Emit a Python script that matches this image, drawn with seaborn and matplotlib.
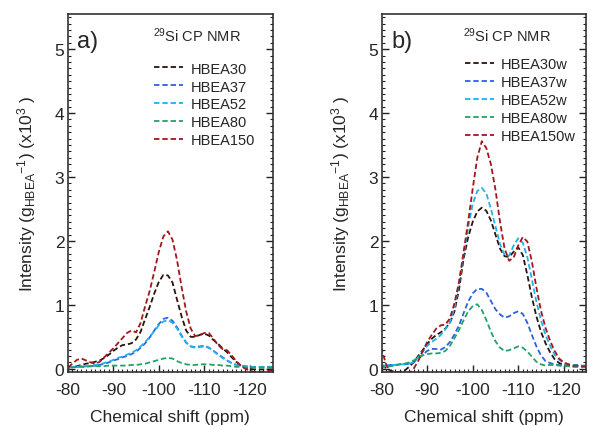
import numpy as np
import pandas as pd
import matplotlib
matplotlib.use('Agg')
import matplotlib.pyplot as plt
import seaborn as sns
from matplotlib.ticker import MultipleLocator

sns.set_style('ticks')
plt.rcParams['font.family'] = ['Liberation Sans', 'DejaVu Sans']
plt.rcParams['mathtext.fontset'] = 'custom'
plt.rcParams['mathtext.rm'] = 'Liberation Sans'
plt.rcParams['mathtext.it'] = 'Liberation Sans'
plt.rcParams['mathtext.default'] = 'regular'
plt.rcParams['axes.unicode_minus'] = False

# Chemical shift grid (ppm), 1 ppm steps
shift = list(range(-80, -126, -1))

# panel a) parent zeolites
hbea30 = [0.02, 0.03, 0.04, 0.06, 0.08, 0.09, 0.11, 0.13, 0.17, 0.22,
          0.28, 0.33, 0.37, 0.38, 0.40, 0.46, 0.58, 0.78, 0.97, 1.18,
          1.36, 1.47, 1.46, 1.35, 1.08, 0.82, 0.60, 0.50, 0.50, 0.53,
          0.55, 0.52, 0.45, 0.39, 0.32, 0.26, 0.18, 0.11, 0.05, 0.02,
          0.00, -0.01, -0.01, -0.01, -0.01, -0.01]
hbea37 = [0.03, 0.03, 0.03, 0.03, 0.04, 0.04, 0.05, 0.06, 0.08, 0.10,
          0.13, 0.15, 0.18, 0.20, 0.23, 0.27, 0.33, 0.40, 0.49, 0.60,
          0.70, 0.78, 0.80, 0.75, 0.65, 0.52, 0.41, 0.35, 0.34, 0.35,
          0.36, 0.33, 0.28, 0.23, 0.18, 0.13, 0.09, 0.06, 0.05, 0.04,
          0.03, 0.03, 0.03, 0.03, 0.03, 0.03]
hbea52 = [0.03, 0.03, 0.03, 0.04, 0.04, 0.05, 0.06, 0.07, 0.09, 0.11,
          0.14, 0.17, 0.19, 0.22, 0.25, 0.29, 0.35, 0.42, 0.50, 0.59,
          0.68, 0.74, 0.76, 0.72, 0.63, 0.51, 0.41, 0.35, 0.33, 0.34,
          0.35, 0.33, 0.28, 0.22, 0.17, 0.13, 0.09, 0.06, 0.04, 0.04,
          0.03, 0.03, 0.03, 0.03, 0.03, 0.03]
hbea80 = [0.02, 0.02, 0.03, 0.03, 0.03, 0.04, 0.04, 0.04, 0.04, 0.05,
          0.05, 0.05, 0.05, 0.05, 0.06, 0.06, 0.07, 0.08, 0.10, 0.12,
          0.14, 0.16, 0.17, 0.16, 0.12, 0.09, 0.07, 0.06, 0.06, 0.07,
          0.07, 0.07, 0.06, 0.06, 0.05, 0.05, 0.04, 0.03, 0.03, 0.02,
          0.02, 0.02, 0.02, 0.02, 0.02, 0.02]
hbea150 = [0.02, 0.08, 0.14, 0.16, 0.13, 0.10, 0.08, 0.11, 0.18, 0.25,
           0.32, 0.40, 0.48, 0.56, 0.60, 0.57, 0.72, 0.98, 1.22, 1.52,
           1.83, 2.07, 2.15, 2.02, 1.70, 1.28, 0.90, 0.63, 0.51, 0.53,
           0.56, 0.56, 0.47, 0.37, 0.31, 0.29, 0.21, 0.12, 0.05, 0.00,
           -0.03, -0.05, -0.05, -0.05, -0.04, -0.03]

# panel b) washed zeolites
hbea30w = [0.05, 0.01, -0.03, -0.05, -0.05, -0.03, 0.03, 0.10, 0.20, 0.29,
           0.39, 0.47, 0.53, 0.57, 0.63, 0.72, 0.90, 1.25, 1.72, 2.06,
           2.30, 2.46, 2.52, 2.47, 2.32, 2.10, 1.88, 1.76, 1.75, 1.83,
           1.90, 1.78, 1.47, 1.12, 0.82, 0.58, 0.40, 0.26, 0.15, 0.09,
           0.06, 0.05, 0.04, 0.04, 0.04, 0.04]
hbea37w = [0.05, 0.05, 0.06, 0.06, 0.07, 0.07, 0.08, 0.10, 0.16, 0.22,
           0.28, 0.31, 0.31, 0.30, 0.34, 0.42, 0.54, 0.68, 0.87, 1.05,
           1.18, 1.25, 1.25, 1.19, 1.06, 0.93, 0.85, 0.80, 0.82, 0.87,
           0.90, 0.86, 0.72, 0.53, 0.35, 0.21, 0.12, 0.09, 0.07, 0.06,
           0.05, 0.05, 0.04, 0.04, 0.03, 0.03]
hbea52w = [0.05, 0.05, 0.06, 0.06, 0.07, 0.07, 0.08, 0.10, 0.18, 0.27,
           0.36, 0.42, 0.47, 0.53, 0.62, 0.73, 0.95, 1.35, 1.78, 2.22,
           2.58, 2.78, 2.83, 2.74, 2.50, 2.23, 1.95, 1.78, 1.77, 1.93,
           2.04, 1.97, 1.75, 1.40, 1.05, 0.76, 0.53, 0.36, 0.22, 0.14,
           0.09, 0.07, 0.06, 0.06, 0.05, 0.05]
hbea80w = [0.02, 0.03, 0.04, 0.05, 0.07, 0.08, 0.10, 0.13, 0.17, 0.21,
           0.23, 0.24, 0.24, 0.25, 0.28, 0.36, 0.48, 0.61, 0.76, 0.90,
           0.98, 1.01, 0.92, 0.76, 0.58, 0.43, 0.33, 0.28, 0.29, 0.32,
           0.35, 0.33, 0.27, 0.19, 0.11, 0.07, 0.05, 0.06, 0.06, 0.05,
           0.04, 0.04, 0.03, 0.03, 0.03, 0.03]
hbea150w = [0.30, 0.06, -0.08, -0.15, -0.18, -0.15, -0.08, 0.00, 0.12, 0.27,
            0.42, 0.53, 0.63, 0.68, 0.69, 0.79, 1.03, 1.36, 1.83, 2.30,
            2.82, 3.30, 3.56, 3.45, 3.20, 2.80, 2.30, 1.88, 1.69, 1.74,
            1.93, 2.06, 1.99, 1.68, 1.27, 0.91, 0.64, 0.44, 0.28, 0.16,
            0.10, 0.07, 0.05, 0.05, 0.04, 0.04]

colors = ['#2a140c', '#2a62e6', '#1eb2f0', '#22a366', '#a3161c']

panels = [
    ('a)', ['HBEA30', 'HBEA37', 'HBEA52', 'HBEA80', 'HBEA150'],
     [hbea30, hbea37, hbea52, hbea80, hbea150], 0.42, 0.867, 0.63),
    ('b)', ['HBEA30w', 'HBEA37w', 'HBEA52w', 'HBEA80w', 'HBEA150w'],
     [hbea30w, hbea37w, hbea52w, hbea80w, hbea150w], 0.405, 0.879, 0.61),
]

fig = plt.figure(figsize=(5.9, 4.27), dpi=100)
lefts = [0.115, 0.647]

for (tag, names, series, lx, ly, tx), left in zip(panels, lefts):
    ax = fig.add_axes([left, 0.1265, 0.347, 0.8384])
    df = pd.DataFrame({'shift': shift * len(names),
                       'intensity': np.concatenate(series),
                       'sample': np.repeat(names, len(shift))})
    for name, col in zip(names, colors):
        sub = df[df['sample'] == name]
        sns.lineplot(data=sub, x='shift', y='intensity', ax=ax, color=col,
                     lw=1.3, linestyle=(0, (3, 1.6)), label=name)
    ax.set_xlim(-80, -125)
    ax.set_ylim(-0.05, 5.55)
    ax.xaxis.set_major_locator(MultipleLocator(10))
    ax.xaxis.set_minor_locator(MultipleLocator(1))
    ax.yaxis.set_major_locator(MultipleLocator(1))
    ax.yaxis.set_minor_locator(MultipleLocator(0.1))
    ax.tick_params(which='both', direction='in', left=True, right=True,
                   bottom=True, top=False, labelsize=12.5,
                   color='#222222')
    ax.tick_params(axis='x', which='both', pad=7)
    ax.tick_params(axis='y', which='both', pad=2.5)
    ax.tick_params(which='major', length=5, width=1.0)
    ax.tick_params(which='minor', length=2.5, width=0.8)
    for s in ax.spines.values():
        s.set_linewidth(1.2)
        s.set_color('#333333')
    ax.set_xlabel('Chemical shift (ppm)', fontsize=12.5, labelpad=9)
    ax.set_ylabel(r'Intensity (g$_{HBEA}$$^{-1}$) (x10$^{3}$ )',
                  fontsize=12.5, labelpad=12)
    ax.text(0.045, 0.955, tag, transform=ax.transAxes, fontsize=17,
            ha='left', va='top')
    ax.text(tx, 0.943, r'$^{29}$Si CP NMR', transform=ax.transAxes,
            fontsize=10.5, ha='center', va='center')
    ax.legend(loc='upper left', bbox_to_anchor=(lx, ly), frameon=False,
              fontsize=10.5, handlelength=2.0, handletextpad=0.5,
              labelspacing=0.27, borderpad=0, borderaxespad=0)

fig.savefig('out.png', dpi=100)
